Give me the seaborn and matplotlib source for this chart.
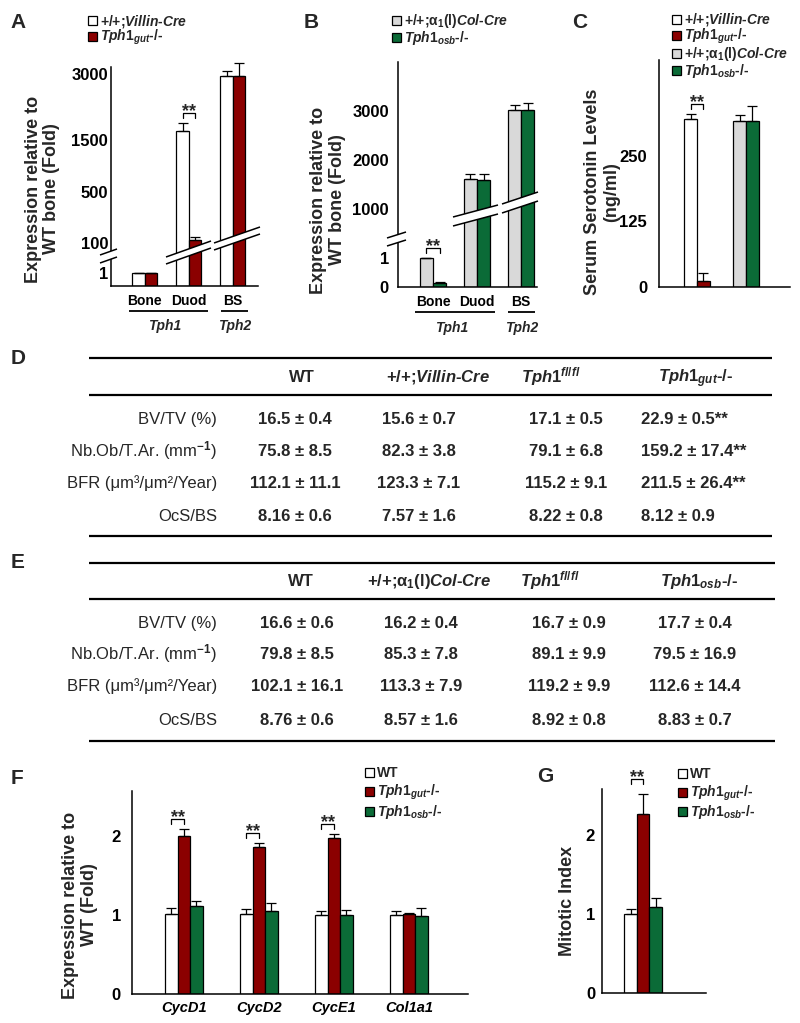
import numpy as np
import pandas as pd
import matplotlib
matplotlib.use("Agg")
import matplotlib.pyplot as plt
import seaborn as sns
from matplotlib import font_manager
from matplotlib.patches import Rectangle, Polygon
from matplotlib.lines import Line2D
from matplotlib.ticker import NullLocator
from matplotlib.transforms import IdentityTransform

# ------------------------------------------------------------------ data
# Panel A: Tph1/Tph2 expression (gut knockout)
a_tissues = ["Bone", "Duod", "BS"]
a_ctrl = [1.0, 1700, 2950]
a_ctrl_err = [0.15, 190, 120]
a_ko = [1.08, 120, 2950]
a_ko_err = [0.22, 30, 300]
a_yticks = [1, 100, 500, 1500, 3000]

# Panel B: Tph1/Tph2 expression (osteoblast knockout)
b_tissues = ["Bone", "Duod", "BS"]
b_ctrl = [1.03, 1615, 3030]
b_ctrl_err = [0.17, 100, 92]
b_ko = [0.14, 1590, 3025]
b_ko_err = [0.02, 125, 140]
b_yticks = [0, 1, 1000, 2000, 3000]

# Panel C: serum serotonin
c_lines = ["gut", "osb"]
c_ctrl = [320, 316]
c_ctrl_err = [10, 12]
c_ko = [12, 316]
c_ko_err = [15, 29]
c_yticks = [0, 125, 250]

# Panel F: gene expression
f_genes = ["CycD1", "CycD2", "CycE1", "Col1a1"]
f_wt = [1.01, 1.01, 1.00, 1.00]
f_wt_err = [0.08, 0.06, 0.05, 0.05]
f_gut = [2.00, 1.86, 1.98, 1.01]
f_gut_err = [0.09, 0.05, 0.05, 0.02]
f_osb = [1.11, 1.05, 1.00, 0.99]
f_osb_err = [0.07, 0.10, 0.06, 0.10]
f_yticks = [0, 1, 2]
f_sig = ["CycD1", "CycD2", "CycE1"]

# Panel G: mitotic index
g_cat = ["all"]
g_vals = [1.00, 2.27, 1.09]
g_err = [0.06, 0.25, 0.11]
g_yticks = [0, 1, 2]

# Tables D / E
VIL = r"+/+;$\mathit{Villin}$-$\mathit{Cre}$"
GUT = r"$\mathit{Tph1}_{\mathit{gut}}$-/-"
COL = r"+/+;$\mathsf{\alpha_{1}(l)}\mathit{Col}$-$\mathit{Cre}$"
OSB = r"$\mathit{Tph1}_{\mathit{osb}}$-/-"
FLFL = r"$\mathit{Tph1}^{\mathit{fl/fl}}$"

tbl_rows = ["BV/TV (%)", r"Nb.Ob/T.Ar. (mm$^{\mathsf{-1}}$)",
            "BFR (μm³/μm²/Year)", "OcS/BS"]
d_headers = ["WT", VIL, FLFL, GUT]
d_vals = [["16.5 ± 0.4", "15.6 ± 0.7", "17.1 ± 0.5", "22.9 ± 0.5**"],
          ["75.8 ± 8.5", "82.3 ± 3.8", "79.1 ± 6.8", "159.2 ± 17.4**"],
          ["112.1 ± 11.1", "123.3 ± 7.1", "115.2 ± 9.1", "211.5 ± 26.4**"],
          ["8.16 ± 0.6", "7.57 ± 1.6", "8.22 ± 0.8", "8.12 ± 0.9"]]
e_headers = ["WT", COL, FLFL, OSB]
e_vals = [["16.6 ± 0.6", "16.2 ± 0.4", "16.7 ± 0.9", "17.7 ± 0.4"],
          ["79.8 ± 8.5", "85.3 ± 7.8", "89.1 ± 9.9", "79.5 ± 16.9"],
          ["102.1 ± 16.1", "113.3 ± 7.9", "119.2 ± 9.9", "112.6 ± 14.4"],
          ["8.76 ± 0.6", "8.57 ± 1.6", "8.92 ± 0.8", "8.83 ± 0.7"]]

# ------------------------------------------------------------------ style
WHITE, RED, GRAY, GREEN = "#ffffff", "#8b0000", "#d9d9d9", "#0b6b37"

sns.set_style("white")
names = {f.name for f in font_manager.fontManager.ttflist}
NARROW = "Liberation Sans Narrow" in names
TFAM = ["Liberation Sans Narrow", "DejaVu Sans"] if NARROW else ["Liberation Sans", "DejaVu Sans"]
TFS = 14 if NARROW else 12

plt.rcParams.update({
    "font.family": ["Liberation Sans", "DejaVu Sans"],
    "font.weight": "bold",
    "axes.labelweight": "bold",
    "mathtext.fontset": "custom",
    "mathtext.rm": "Liberation Sans:bold",
    "mathtext.bf": "Liberation Sans:bold",
    "mathtext.it": "Liberation Sans:italic:bold",
    "mathtext.sf": TFAM[0],
    "axes.linewidth": 1.1,
    "axes.edgecolor": "black",
    "xtick.color": "black",
    "ytick.color": "black",
})

W, H = 800, 1023
fig = plt.figure(figsize=(W / 100, H / 100), dpi=100)

TICK_FS, YLAB_FS, LEG_FS, XLAB_FS, PANEL_FS, SIG_FS = 12, 13, 10, 10, 15, 13


def add_ax(l, t, r, b):
    ax = fig.add_axes([l / W, 1 - b / H, (r - l) / W, (b - t) / H])
    sns.despine(ax=ax)
    return ax


def make_df(cats, names_, vals, errs):
    rows = []
    for nm, vv, ee in zip(names_, vals, errs):
        for c, v, e in zip(cats, vv, ee):
            rows.append(dict(cat=c, grp=nm, value=v, err=e))
    return pd.DataFrame(rows)


def draw_bars(ax, df, cats, names_, colors, width):
    sns.barplot(data=df, x="cat", y="value", hue="grp", order=cats,
                hue_order=names_, palette=colors, width=width, saturation=1,
                edgecolor="black", linewidth=0.9, errorbar=None, legend=False,
                ax=ax, zorder=2)
    xs = np.array([p.get_x() + p.get_width() / 2 for p in ax.patches])
    ax.errorbar(xs, df["value"], yerr=[np.zeros(len(df)), df["err"]],
                fmt="none", ecolor="black", elinewidth=0.9, capsize=3.5,
                capthick=0.9, zorder=3, clip_on=False)
    ax.set_xlabel("")
    ax.set_ylabel("")
    return xs


def piecewise(vals, pxs):
    vals = np.asarray(vals, float)
    pxs = np.asarray(pxs, float)
    return (lambda v: np.interp(v, vals, pxs), lambda p: np.interp(p, pxs, vals))


def fline(pts, lw=1.1, z=6):
    fig.add_artist(Line2D([p[0] / W for p in pts], [1 - p[1] / H for p in pts],
                          transform=fig.transFigure, color="black", lw=lw,
                          zorder=z, solid_capstyle="butt"))


def band(lo0, lo1, up0, up1):
    pts = [(p[0] / W, 1 - p[1] / H) for p in (lo0, lo1, up1, up0)]
    fig.add_artist(Polygon(pts, closed=True, transform=fig.transFigure,
                           facecolor="white", edgecolor="none", zorder=5))
    fline([lo0, lo1])
    fline([up0, up1])


def sig(ax, x1, x2, ytop, extra=0):
    X1, Y = ax.transData.transform((x1, ytop))
    X2, _ = ax.transData.transform((x2, ytop))
    yb, yt = Y + 5 + extra, Y + 10 + extra
    fig.add_artist(Line2D([X1, X1, X2, X2], [yb, yt, yt, yb],
                          transform=IdentityTransform(), color="black", lw=0.9))
    fig.text((X1 + X2) / 2 / W, (Y + 7 + extra) / H, "**", ha="center",
             va="baseline", fontsize=SIG_FS)


def legend(x_sq, ys, colors, labels, fs=LEG_FS, size=9):
    for y, c, lab in zip(ys, colors, labels):
        fig.add_artist(Rectangle((x_sq / W, 1 - (y + size / 2) / H), size / W, size / H,
                                 transform=fig.transFigure, facecolor=c,
                                 edgecolor="black", lw=0.9))
        fig.text((x_sq + size + 3) / W, 1 - (y + 0.36 * fs * 100 / 72) / H, lab,
                 ha="left", va="baseline", fontsize=fs)


def ylab(x, y, text, ls=1.1):
    fig.text(x / W, 1 - y / H, text, rotation=90, ha="center", va="center",
             fontsize=YLAB_FS, linespacing=ls, multialignment="center")


def panel(x, y, letter):
    fig.text(x / W, 1 - y / H, letter, ha="left", va="center", fontsize=PANEL_FS)


# ------------------------------------------------------------------ Panel A
axA = add_ax(111, 67, 258, 286)
dfA = make_df(a_tissues, ["ctrl", "ko"], [a_ctrl, a_ko], [a_ctrl_err, a_ko_err])
draw_bars(axA, dfA, a_tissues, ["ctrl", "ko"], [WHITE, RED], 0.57)
fA, iA = piecewise([0, 1, 100, 500, 1500, 3000, 30000],
                   [0, 13, 43, 94, 146, 212, 212 + 27000 * 66 / 1500])
axA.set_yscale("function", functions=(fA, iA))
axA.set_ylim(0, 3159)
axA.set_xlim(-0.77, 2.57)
axA.set_yticks(a_yticks, labels=[str(t) for t in a_yticks])
axA.yaxis.set_minor_locator(NullLocator())
axA.tick_params(axis="y", direction="in", length=6, width=1, pad=2, labelsize=TICK_FS)
axA.tick_params(axis="x", length=0, pad=6, labelsize=XLAB_FS)
band((100, 263), (117, 257), (100, 255), (117, 249))
band((166, 264), (211, 248), (166, 257), (211, 241))
band((214, 250), (260, 234), (214, 243), (260, 227))
fline([(129, 311), (208, 311)], lw=1.3)
fline([(221, 311), (248, 311)], lw=1.3)
fig.text(165 / W, 1 - 326 / H, "Tph1", ha="center", va="center", fontsize=XLAB_FS, fontstyle="italic")
fig.text(235 / W, 1 - 326 / H, "Tph2", ha="center", va="center", fontsize=XLAB_FS, fontstyle="italic")
ylab(42.5, 189, "Expression relative to\nWT bone (Fold)")
legend(88, [20, 36], [WHITE, RED], [VIL, GUT])
panel(10, 22, "A")

# ------------------------------------------------------------------ Panel B
axB = add_ax(398, 62, 537, 287)
dfB = make_df(b_tissues, ["ctrl", "ko"], [b_ctrl, b_ko], [b_ctrl_err, b_ko_err])
draw_bars(axB, dfB, b_tissues, ["ctrl", "ko"], [GRAY, GREEN], 0.6)
fB, iB = piecewise([0, 1, 1000, 4000, 40000], [0, 29, 78, 225, 225 + 36000 * 0.049])
axB.set_yscale("function", functions=(fB, iB))
axB.set_ylim(0, 4000)
axB.set_xlim(-0.795, 2.36)
axB.set_yticks(b_yticks, labels=[str(t) for t in b_yticks])
axB.yaxis.set_minor_locator(NullLocator())
axB.tick_params(axis="y", direction="out", length=5, width=1, pad=1.5, labelsize=TICK_FS)
axB.tick_params(axis="x", length=0, pad=6, labelsize=XLAB_FS)
band((387, 246), (406, 240), (387, 238), (406, 232))
band((453, 226), (498, 214), (453, 217), (498, 205))
band((502, 213), (538, 201), (502, 204), (538, 192))
fline([(415, 312), (495, 312)], lw=1.3)
fline([(508, 312), (535, 312)], lw=1.3)
fig.text(452 / W, 1 - 328 / H, "Tph1", ha="center", va="center", fontsize=XLAB_FS, fontstyle="italic")
fig.text(522 / W, 1 - 328 / H, "Tph2", ha="center", va="center", fontsize=XLAB_FS, fontstyle="italic")
ylab(328, 200, "Expression relative to\nWT bone (Fold)")
legend(392, [20, 37], [GRAY, GREEN], [COL, OSB])
panel(304, 22, "B")

# ------------------------------------------------------------------ Panel C
axC = add_ax(659, 60, 790, 287)
dfC = make_df(c_lines, ["ctrl", "ko"], [c_ctrl, c_ko], [c_ctrl_err, c_ko_err])
draw_bars(axC, dfC, c_lines, ["ctrl", "ko"], [WHITE, RED], 0.52)
# second line (osteoblast) uses its own colours
c_colors = {("ctrl", "osb"): GRAY, ("ko", "osb"): GREEN}
for p, (_, r) in zip(axC.patches, dfC.iterrows()):
    if (r["grp"], r["cat"]) in c_colors:
        p.set_facecolor(c_colors[(r["grp"], r["cat"])])
axC.set_ylim(0, 433)
axC.set_xlim(-0.776, 1.90)
axC.set_yticks(c_yticks, labels=[str(t) for t in c_yticks])
axC.set_xticks([])
axC.tick_params(axis="y", direction="out", length=6.5, width=1, pad=2, labelsize=TICK_FS)
ylab(602, 192, "Serum Serotonin Levels\n(ng/ml)", ls=1.2)
legend(672, [19, 35, 53, 70], [WHITE, RED, GRAY, GREEN], [VIL, GUT, COL, OSB])
panel(572, 22, "C")

# ------------------------------------------------------------------ Tables D / E
def hline(x0, x1, y, lw=1.6):
    fline([(x0, y), (x1, y)], lw=lw)


def table(top, head_y, line2, rows_y, bottom, x1, headers, head_x, vals, val_x, val_ha):
    px_fs = TFS * 100 / 72
    for y in (top, line2, bottom):
        hline(89, x1, y)
    for h, x in zip(headers, head_x):
        fig.text(x / W, 1 - (head_y + 0.36 * px_fs) / H, h, ha="center",
                 va="baseline", fontsize=TFS, family=TFAM)
    for lab, y, row in zip(tbl_rows, rows_y, vals):
        yb = 1 - (y + 0.36 * px_fs) / H
        fig.text(217 / W, yb, lab, ha="right", va="baseline", fontsize=TFS,
                 family=TFAM, fontweight="normal")
        for v, x, ha in zip(row, val_x, val_ha):
            fig.text(x / W, yb, v, ha=ha, va="baseline", fontsize=TFS, family=TFAM)


table(358, 376, 395, [418, 450, 482, 515], 536, 772, d_headers,
      [302, 438, 551, 696], d_vals, [295, 419, 566, 641],
      ["center", "center", "center", "left"])
panel(11, 358, "D")
table(563, 580, 599, [622, 653, 685, 719], 741, 775, e_headers,
      [301, 429, 550, 699], e_vals, [297, 421, 569, 695],
      ["center", "center", "center", "center"])
panel(11, 563, "E")

# ------------------------------------------------------------------ Panel F
axF = add_ax(132, 791, 468, 994)
dfF = make_df(f_genes, ["wt", "gut", "osb"], [f_wt, f_gut, f_osb],
              [f_wt_err, f_gut_err, f_osb_err])
xsF = draw_bars(axF, dfF, f_genes, ["wt", "gut", "osb"], [WHITE, RED, GREEN], 0.5)
axF.set_ylim(0, 2.57)
axF.set_xlim(-0.693, 3.787)
axF.set_yticks(f_yticks, labels=[str(t) for t in f_yticks])
axF.set_xticks(range(len(f_genes)), labels=f_genes, fontstyle="italic")
axF.tick_params(axis="y", direction="out", length=6, width=1, pad=2, labelsize=TICK_FS)
axF.tick_params(axis="x", length=0, pad=5, labelsize=XLAB_FS + 0.5)
ylab(80, 905, "Expression relative to\nWT (Fold)")
legend(365, [772, 791, 811], [WHITE, RED, GREEN], ["WT", GUT, OSB])
panel(11, 778, "F")

# ------------------------------------------------------------------ Panel G
axG = add_ax(602, 789, 706, 993)
dfG = make_df(g_cat, ["wt", "gut", "osb"], [[v] for v in g_vals], [[e] for e in g_err])
draw_bars(axG, dfG, g_cat, ["wt", "gut", "osb"], [WHITE, RED, GREEN], 0.5)
axG.set_ylim(0, 2.58)
axG.set_xlim(-0.547, 0.84)
axG.set_yticks(g_yticks, labels=[str(t) for t in g_yticks])
axG.set_xticks([])
axG.tick_params(axis="y", direction="in", length=7, width=1, pad=5, labelsize=TICK_FS)
ylab(568, 901, "Mitotic Index")
legend(678, [773, 792, 811], [WHITE, RED, GREEN], ["WT", GUT, OSB])
panel(537, 776, "G")

# ------------------------------------------------------------------ significance marks
wA = 0.57 / 2
sig(axA, 1 - wA / 2, 1 + wA / 2, max(a_ctrl[1] + a_ctrl_err[1], a_ko[1] + a_ko_err[1]))
wB = 0.6 / 2
sig(axB, 0 - wB / 2, 0 + wB / 2, max(b_ctrl[0] + b_ctrl_err[0], b_ko[0] + b_ko_err[0]))
wC = 0.52 / 2
sig(axC, 0 - wC / 2, 0 + wC / 2, max(c_ctrl[0] + c_ctrl_err[0], c_ko[0] + c_ko_err[0]))
wF = 0.5 / 3
for g in f_sig:
    i = f_genes.index(g)
    sig(axF, i - wF, i, max(f_wt[i] + f_wt_err[i], f_gut[i] + f_gut_err[i]))
sig(axG, -wF, 0, max(g_vals[0] + g_err[0], g_vals[1] + g_err[1]), extra=5)

fig.savefig("out.png", dpi=100)
